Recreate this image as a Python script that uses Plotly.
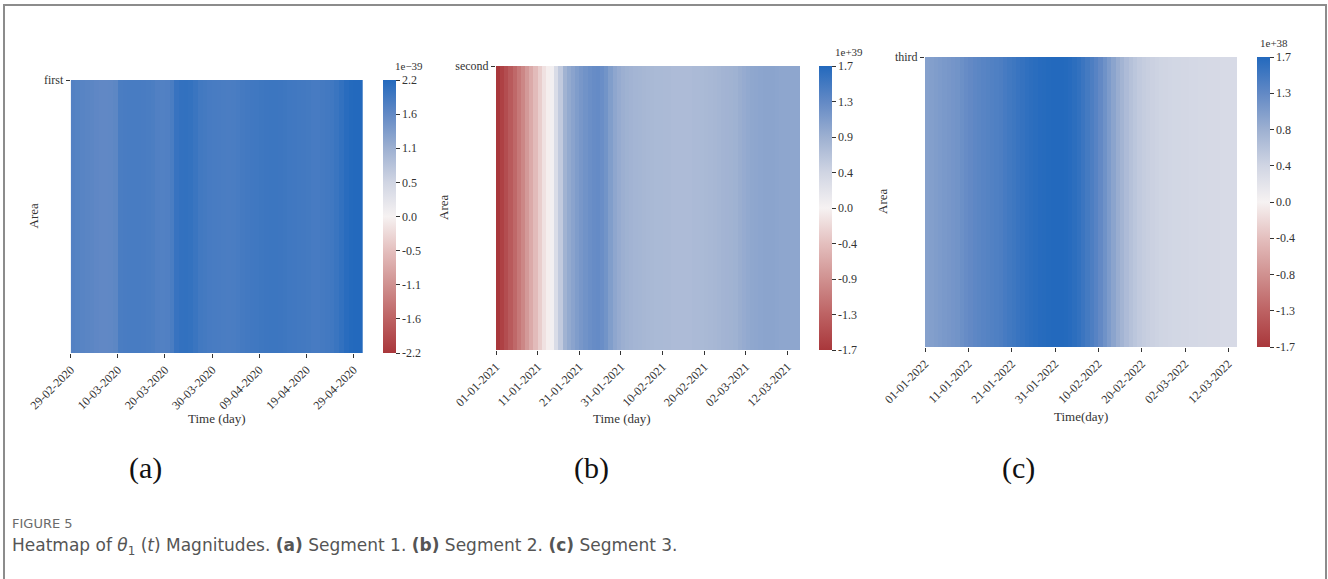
import plotly.graph_objects as go

W, H = 1328, 579

# ---------------- data (values in colour-bar units) ----------------
# Segment 1 (x 1e-39), 62 days from 29-02-2020
seg1_values = [1.78, 1.76, 1.74, 1.72, 1.70, 1.68, 1.66, 1.66, 1.67, 1.69,
               1.86, 1.87, 1.88, 1.88, 1.88, 1.87, 1.86, 1.84,
               1.80, 1.79, 1.80, 1.86,
               2.02, 2.06, 2.07, 2.05, 2.00,
               1.93, 1.91, 1.89, 1.88, 1.87, 1.86, 1.85, 1.86, 1.88, 1.90, 1.92, 1.94, 1.95, 1.96,
               1.97, 1.98, 1.98, 1.97, 1.96, 1.95, 1.94, 1.93, 1.92, 1.91,
               1.89, 1.89, 1.90, 1.92, 1.95, 2.00, 2.07,
               2.15, 2.19, 2.20, 2.20]
seg1_ticklabels = ["29-02-2020", "10-03-2020", "20-03-2020", "30-03-2020",
                   "09-04-2020", "19-04-2020", "29-04-2020"]
seg1_cbar_ticks = ["-2.2", "-1.6", "-1.1", "-0.5", "0.0", "0.5", "1.1", "1.6", "2.2"]
seg1_vmax = 2.2
seg1_exp = "1e\u221239"

# Segment 2 (x 1e+39), 73 days from 01-01-2021
seg2_values = [-1.70, -1.60, -1.48, -1.35, -1.22, -1.08, -0.94, -0.78, -0.62, -0.46, -0.30,
               -0.14, -0.03, 0.04,
               0.32, 0.55, 0.82,
               0.92, 0.99, 1.06, 1.12, 1.17,
               1.21, 1.24, 1.25, 1.22, 1.16,
               1.05, 0.96, 0.90, 0.86, 0.83,
               0.81, 0.79, 0.78, 0.77, 0.76, 0.75, 0.74, 0.74, 0.73, 0.73, 0.72, 0.72, 0.72,
               0.72, 0.72, 0.73, 0.73, 0.74, 0.75, 0.76, 0.77, 0.78, 0.80, 0.81, 0.82, 0.83,
               0.87, 0.90, 0.93, 0.95, 0.96, 0.97, 0.98, 0.98, 0.98, 0.97, 0.96, 0.96, 0.96,
               0.96, 0.96]
seg2_ticklabels = ["01-01-2021", "11-01-2021", "21-01-2021", "31-01-2021",
                   "10-02-2021", "20-02-2021", "02-03-2021", "12-03-2021"]
seg2_cbar_ticks = ["-1.7", "-1.3", "-0.9", "-0.4", "0.0", "0.4", "0.9", "1.3", "1.7"]
seg2_vmax = 1.7
seg2_exp = "1e+39"

# Segment 3 (x 1e+38), 72 days from 01-01-2022
seg3_values = [1.02, 1.04, 1.06, 1.08, 1.10, 1.12, 1.14, 1.16,
               1.20, 1.24, 1.27, 1.30, 1.32, 1.34, 1.36, 1.38, 1.40, 1.42,
               1.46, 1.49, 1.52, 1.55, 1.58, 1.61, 1.63, 1.65,
               1.67, 1.68, 1.69, 1.70, 1.70, 1.70, 1.69, 1.67, 1.64, 1.60,
               1.54, 1.48, 1.42, 1.35, 1.27, 1.18, 1.08,
               0.98, 0.88, 0.80, 0.72, 0.65, 0.60, 0.55,
               0.52, 0.49, 0.47, 0.45, 0.43, 0.42, 0.41, 0.40,
               0.40, 0.39, 0.39, 0.38, 0.38, 0.37, 0.37, 0.36, 0.36, 0.36, 0.35, 0.35,
               0.35, 0.35]
seg3_ticklabels = ["01-01-2022", "11-01-2022", "21-01-2022", "31-01-2022",
                   "10-02-2022", "20-02-2022", "02-03-2022", "12-03-2022"]
seg3_cbar_ticks = ["-1.7", "-1.3", "-0.8", "-0.4", "0.0", "0.4", "0.8", "1.3", "1.7"]
seg3_vmax = 1.7
seg3_exp = "1e+38"

row_names = ["first", "second", "third"]
xtitles = ["Time (day)", "Time (day)", "Time(day)"]
panel_letters = ["(a)", "(b)", "(c)"]
tick_step = 10

# seaborn "vlag_r"-like diverging scale
vlag_r = [[0.0, "#a9373b"], [0.125, "#bd6263"], [0.25, "#d09190"],
          [0.375, "#e4bfbe"], [0.5, "#f6f2f2"], [0.625, "#d0d5e3"],
          [0.75, "#9db0d1"], [0.875, "#6289c5"], [1.0, "#2369bd"]]

# ---------------- layout geometry (pixels) ----------------
panels = [
    dict(vals=seg1_values, ticks=seg1_ticklabels, cb=seg1_cbar_ticks, vmax=seg1_vmax, exp=seg1_exp,
         x0=70.7, x1=363, top=80, bot=353, cbx=383, area_x=33, tx=217, ty=418, lx=145, expx=409, expy=66),
    dict(vals=seg2_values, ticks=seg2_ticklabels, cb=seg2_cbar_ticks, vmax=seg2_vmax, exp=seg2_exp,
         x0=496, x1=800, top=66, bot=350, cbx=819, area_x=443, tx=622, ty=418, lx=591, expx=849, expy=52),
    dict(vals=seg3_values, ticks=seg3_ticklabels, cb=seg3_cbar_ticks, vmax=seg3_vmax, exp=seg3_exp,
         x0=925, x1=1237, top=57, bot=347, cbx=1257, area_x=882, tx=1081, ty=416, lx=1018, expx=1274, expy=43),
]

SERIF = "Liberation Serif, Times New Roman, serif"
SANS = "DejaVu Sans, Open Sans, sans-serif"
TXT = "#333333"

def px(x):
    return x / W

def py(y):
    return 1 - y / H

fig = go.Figure()
annotations = []
for i, p in enumerate(panels):
    n = len(p["vals"])
    xs = [k + 0.5 for k in range(n)]
    ax = "" if i == 0 else str(i + 1)
    vmax = p["vmax"]
    cbvals = [-vmax + k * (2 * vmax / 8) for k in range(9)]
    fig.add_trace(go.Heatmap(
        z=[p["vals"]], x=xs, y=[0.5],
        xaxis="x" + ax, yaxis="y" + ax,
        zmin=-vmax, zmax=vmax, colorscale=vlag_r,
        hovertemplate="%{z}<extra></extra>",
        colorbar=dict(
            x=px(p["cbx"]), xanchor="left", xref="paper",
            y=py(p["top"]), yanchor="top", yref="paper",
            len=p["bot"] - p["top"], lenmode="pixels",
            thickness=13, thicknessmode="pixels",
            outlinewidth=0, xpad=0, ypad=0,
            tickvals=cbvals, ticktext=p["cb"],
            ticks="outside", ticklen=4, tickcolor=TXT, tickwidth=1,
            tickfont=dict(family=SERIF, size=12, color=TXT),
        ),
    ))
    tickvals = list(range(0, n, tick_step))[:len(p["ticks"])]
    fig.layout["xaxis" + ax] = dict(
        domain=[px(p["x0"]), px(p["x1"])], anchor="y" + ax,
        range=[0, n], tickvals=tickvals, ticktext=p["ticks"],
        tickangle=-45, ticks="outside", ticklen=4, tickcolor=TXT,
        tickfont=dict(family=SERIF, size=12, color=TXT),
        showgrid=False, zeroline=False, showline=False, fixedrange=True,
        automargin=False,
    )
    fig.layout["yaxis" + ax] = dict(
        domain=[py(p["bot"]), py(p["top"])], anchor="x" + ax,
        range=[0, 1], tickvals=[1], ticktext=[row_names[i]],
        ticks="outside", ticklen=4, tickcolor=TXT,
        tickfont=dict(family=SERIF, size=12, color=TXT),
        showgrid=False, zeroline=False, showline=False, fixedrange=True,
        automargin=False,
    )
    mid = (p["top"] + p["bot"]) / 2
    annotations += [
        dict(text="Area", x=px(p["area_x"]), y=py(mid), textangle=-90,
             font=dict(family=SERIF, size=13, color=TXT)),
        dict(text=xtitles[i], x=px(p["tx"]), y=py(p["ty"]),
             font=dict(family=SERIF, size=13, color=TXT)),
        dict(text=panel_letters[i], x=px(p["lx"]), y=py(468),
             font=dict(family=SERIF, size=30, color="#111111")),
        dict(text=p["exp"], x=px(p["expx"]), y=py(p["expy"]),
             font=dict(family=SERIF, size=11, color=TXT)),
    ]

for a in annotations:
    a.update(xref="paper", yref="paper", showarrow=False, xanchor="center", yanchor="middle")

annotations += [
    dict(text="FIGURE 5", x=px(10), y=py(523), xref="paper", yref="paper", showarrow=False,
         xanchor="left", yanchor="middle",
         font=dict(family=SANS, size=13, color="#6b6b6b")),
    dict(text="Heatmap of <i>θ</i><sub>1</sub> (<i>t</i>) Magnitudes. <b>(a)</b> Segment 1. "
              "<b>(b)</b> Segment 2. <b>(c)</b> Segment 3.",
         x=px(10), y=py(546), xref="paper", yref="paper", showarrow=False,
         xanchor="left", yanchor="middle",
         font=dict(family=SANS, size=17, color="#555555")),
]

fig.update_layout(
    width=W, height=H, margin=dict(l=0, r=0, t=0, b=0, autoexpand=False),
    paper_bgcolor="white", plot_bgcolor="white",
    annotations=annotations,
    shapes=[dict(type="rect", xref="paper", yref="paper",
                 x0=px(4), x1=px(1326), y0=-0.1, y1=py(5),
                 line=dict(color="#8c8c8c", width=2))],
    showlegend=False,
)

fig.write_html("out.html", config={"displayModeBar": False},
               post_script="document.body.style.margin='0px';document.body.style.padding='0px';")
